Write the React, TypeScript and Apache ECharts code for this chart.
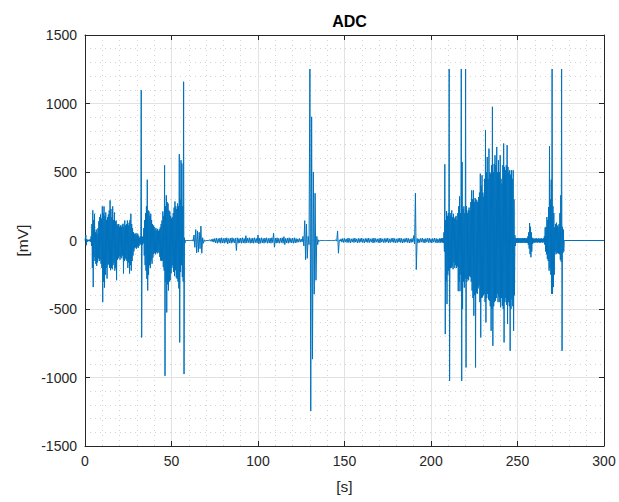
import React, { useEffect, useRef } from "react";
import * as echarts from "echarts";

// ---- data ----
// Burst 1: t = 0 .. 59.5 s, one max/min pair every 0.5 s
const burst1Start = 0;
const burst1Step = 0.5;
const burst1Up = [
  0, 40, 10, 5, 5, 5, 10, 30, 120, 220,
  150, 195, 60, 80, 50, 90, 140, 171, 190, 160,
  249, 200, 249, 180, 205, 150, 170, 190, 220, 293,
  230, 170, 249, 150, 205, 140, 146, 120, 110, 120,
  100, 110, 100, 115, 122, 100, 146, 110, 120, 146,
  110, 130, 150, 195, 120, 90, 60, 50, 45, 55,
  40, 50, 35, 20, 30, 1097, 30, 25, 90, 150,
  200, 250, 444, 220, 212, 180, 195, 150, 120, 110,
  100, 80, 90, 75, 85, 70, 80, 95, 120, 146,
  212, 180, 549, 250, 330, 280, 270, 220, 212, 180,
  160, 171, 200, 240, 285, 250, 230, 270, 250, 630,
  300, 586, 562, 250, 1159, 20, 0, 0, 0, 0,
];
const burst1Lo = [
  0, -35, -10, -5, -5, -5, -10, -40, -200, -340,
  -120, -150, -170, -185, -160, -130, -150, -140, -170, -200,
  -450, -300, -344, -250, -200, -278, -180, -170, -200, -217,
  -200, -210, -180, -160, -220, -200, -290, -140, -130, -115,
  -140, -120, -130, -110, -241, -150, -130, -140, -150, -200,
  -160, -241, -180, -220, -150, -110, -80, -57, -50, -60,
  -45, -55, -40, -25, -30, -708, -30, -20, -110, -180,
  -220, -280, -365, -250, -180, -200, -146, -170, -125, -100,
  -90, -100, -85, -95, -80, -90, -120, -146, -150, -146,
  -193, -220, -988, -300, -525, -320, -365, -300, -290, -240,
  -200, -180, -230, -260, -217, -270, -280, -300, -350, -744,
  -230, -180, -266, -300, -975, -20, 0, 0, 0, 0,
];

// Quiet part: t = 60 .. 204 s, one max/min pair every 1 s
const quietStart = 60;
const quietStep = 1;
const quietUp = [
  0, 0, 5, 40, 80, 70, 60, 105, 20, 5,
  0, 0, 5, 8, 12, 15, 18, 14, 18, 20,
  15, 18, 20, 14, 18, 20, 15, 18, 20, 15,
  18, 20, 15, 35, 18, 20, 15, 18, 20, 15,
  40, 18, 20, 15, 18, 20, 15, 18, 20, 54,
  18, 20, 15, 18, 20, 28, 15, 18, 20, 15,
  18, 20, 15, 12, 15, 10, 30, 145, 120, 30,
  1252, 903, 500, 345, 30, 5, 0, 0, 0, 0,
  0, 0, 0, 0, 0, 5, 70, 5, 12, 15,
  15, 12, 18, 15, 12, 15, 18, 12, 15, 15,
  18, 12, 15, 15, 18, 12, 15, 18, 15, 12,
  15, 18, 12, 15, 15, 18, 12, 15, 18, 15,
  12, 15, 18, 15, 12, 15, 18, 15, 12, 15,
  35, 346, 15, 12, 15, 18, 12, 15, 15, 18,
  12, 15, 18, 15, 12,
];
const quietLo = [
  0, 0, -5, -50, -90, -85, -60, -93, -20, -5,
  0, 0, -5, -8, -12, -18, -20, -15, -20, -18,
  -20, -15, -25, -18, -20, -15, -18, -73, -20, -18,
  -20, -18, -20, -18, -15, -20, -18, -20, -15, -18,
  -25, -20, -18, -20, -15, -20, -18, -20, -15, -49,
  -20, -18, -20, -15, -20, -30, -18, -20, -15, -18,
  -20, -18, -15, -12, -12, -10, -40, -140, -130, -30,
  -1245, -866, -392, -290, -30, -5, 0, 0, 0, 0,
  0, 0, 0, 0, 0, -5, -93, -5, -12, -15,
  -12, -15, -15, -18, -12, -15, -12, -18, -15, -12,
  -15, -18, -12, -15, -15, -12, -18, -15, -12, -15,
  -18, -12, -15, -15, -12, -18, -15, -12, -15, -18,
  -15, -12, -15, -18, -15, -12, -15, -18, -15, -12,
  -25, -212, -18, -15, -12, -15, -18, -12, -15, -15,
  -18, -12, -15, -18, -15,
];

// Burst 2: t = 205 .. 277 s, one max/min pair every 0.5 s
const burst2Start = 205;
const burst2Step = 0.5;
const burst2Up = [
  15, 12, 15, 18, 15, 60, 556, 150, 215, 180,
  200, 1252, 180, 200, 220, 170, 195, 160, 170, 180,
  150, 200, 250, 322, 200, 1252, 573, 230, 249, 200,
  1252, 250, 200, 220, 240, 220, 280, 366, 300, 366,
  280, 310, 300, 293, 280, 317, 350, 488, 400, 476,
  350, 320, 450, 805, 500, 610, 450, 671, 500, 488,
  550, 976, 500, 560, 622, 550, 683, 500, 586, 500,
  622, 450, 415, 550, 708, 537, 513, 550, 696, 537,
  500, 513, 480, 513, 450, 513, 300, 40, 18, 15,
  18, 15, 18, 15, 18, 15, 18, 15, 18, 15,
  18, 15, 30, 60, 127, 100, 60, 20, 15, 15,
  12, 15, 15, 12, 15, 15, 12, 15, 15, 12,
  15, 30, 95, 100, 171, 150, 244, 688, 300, 444,
  1252, 250, 200, 95, 120, 130, 110, 100, 120, 200,
  330, 1252, 100, 80, 0,
];
const burst2Lo = [
  -15, -15, -12, -15, -18, -80, -683, -300, -464, -250,
  -220, -1025, -200, -200, -190, -210, -160, -200, -180, -200,
  -190, -370, -300, -370, -250, -1025, -500, -300, -344, -280,
  -927, -300, -280, -290, -260, -268, -300, -366, -420, -549,
  -400, -927, -380, -390, -350, -330, -450, -708, -420, -415,
  -400, -390, -450, -598, -420, -390, -430, -440, -480, -659,
  -500, -769, -480, -450, -440, -420, -390, -450, -410, -450,
  -488, -420, -476, -500, -744, -450, -420, -470, -610, -450,
  -480, -805, -500, -430, -480, -659, -400, -40, -18, -15,
  -18, -18, -15, -18, -15, -18, -15, -18, -15, -18,
  -15, -18, -30, -60, -100, -122, -80, -25, -15, -15,
  -15, -12, -15, -15, -12, -15, -15, -12, -15, -15,
  -12, -30, -80, -100, -134, -150, -220, -200, -250, -390,
  -390, -340, -250, -80, -100, -95, -90, -95, -100, -140,
  -155, -805, -90, -80, 0,
];

const endPoint: [number, number] = [300, 0];

const xTicks = { min: 0, max: 300, interval: 50 };
const yTicks = { min: -1500, max: 1500, interval: 500 };

function segment(start: number, step: number, up: number[], lo: number[]) {
  const pts: [number, number][] = [];
  for (let i = 0; i < up.length; i++) {
    const t = start + i * step;
    pts.push([t, up[i]]);
    pts.push([t + step / 2, lo[i]]);
  }
  return pts;
}

const FONT = "'Liberation Sans', Arial, Helvetica, sans-serif";
const AXIS_COLOR = "#262626";

export default function App() {
  const ref = useRef<HTMLDivElement>(null);
  useEffect(() => {
    if (!ref.current) return;
    const chart = echarts.init(ref.current, undefined, { renderer: "svg" });
    const data = [
      ...segment(burst1Start, burst1Step, burst1Up, burst1Lo),
      ...segment(quietStart, quietStep, quietUp, quietLo),
      ...segment(burst2Start, burst2Step, burst2Up, burst2Lo),
      endPoint,
    ];
    const axisLine = { show: true, onZero: false, lineStyle: { color: AXIS_COLOR, width: 1 } };
    const axisTick = { show: true, inside: true, length: 5, lineStyle: { color: AXIS_COLOR, width: 1 } };
    const splitLine = { show: true, lineStyle: { color: "#e2e2e2", width: 1 } };
    const minorSplitLine = { show: true, lineStyle: { color: "#d4d4d4", width: 1, type: [1, 4] } };
    const minorTick = { show: false, splitNumber: 5 };
    const plain = (v: number) => String(v);
    chart.setOption({
      animation: false,
      backgroundColor: "#ffffff",
      title: {
        text: "ADC",
        left: 344.5,
        top: 8,
        textAlign: "center",
        textStyle: { fontFamily: FONT, fontSize: 16, fontWeight: "bold", color: "#000" },
      },
      grid: { left: 85, right: 15, top: 35, bottom: 56, containLabel: false },
      xAxis: [
        {
          type: "value",
          position: "bottom",
          ...xTicks,
          axisLine,
          axisTick,
          axisLabel: { show: true, fontFamily: FONT, fontSize: 14, color: AXIS_COLOR, margin: 8, formatter: plain },
          splitLine,
          minorTick,
          minorSplitLine,
          name: "[s]",
          nameLocation: "middle",
          nameGap: 32,
          nameTextStyle: { fontFamily: FONT, fontSize: 15.5, color: AXIS_COLOR },
        },
        {
          type: "value",
          position: "top",
          ...xTicks,
          axisLine,
          axisTick,
          axisLabel: { show: false },
          splitLine: { show: false },
        },
      ],
      yAxis: [
        {
          type: "value",
          position: "left",
          ...yTicks,
          axisLine,
          axisTick,
          axisLabel: { show: true, fontFamily: FONT, fontSize: 14, color: AXIS_COLOR, margin: 8, formatter: plain },
          splitLine,
          minorTick,
          minorSplitLine,
          name: "[mV]",
          nameLocation: "middle",
          nameGap: 55,
          nameTextStyle: { fontFamily: FONT, fontSize: 15.5, color: AXIS_COLOR },
        },
        {
          type: "value",
          position: "right",
          ...yTicks,
          axisLine,
          axisTick,
          axisLabel: { show: false },
          splitLine: { show: false },
        },
      ],
      series: [
        {
          type: "line",
          xAxisIndex: 0,
          yAxisIndex: 0,
          data,
          showSymbol: false,
          symbol: "none",
          clip: true,
          lineStyle: { color: "#0072BD", width: 1 },
          itemStyle: { color: "#0072BD" },
        },
      ],
    });
    return () => chart.dispose();
  }, []);
  return (
    <div
      ref={ref}
      style={{ position: "fixed", left: 0, top: 0, width: 619, height: 502, background: "#fff" }}
    />
  );
}
